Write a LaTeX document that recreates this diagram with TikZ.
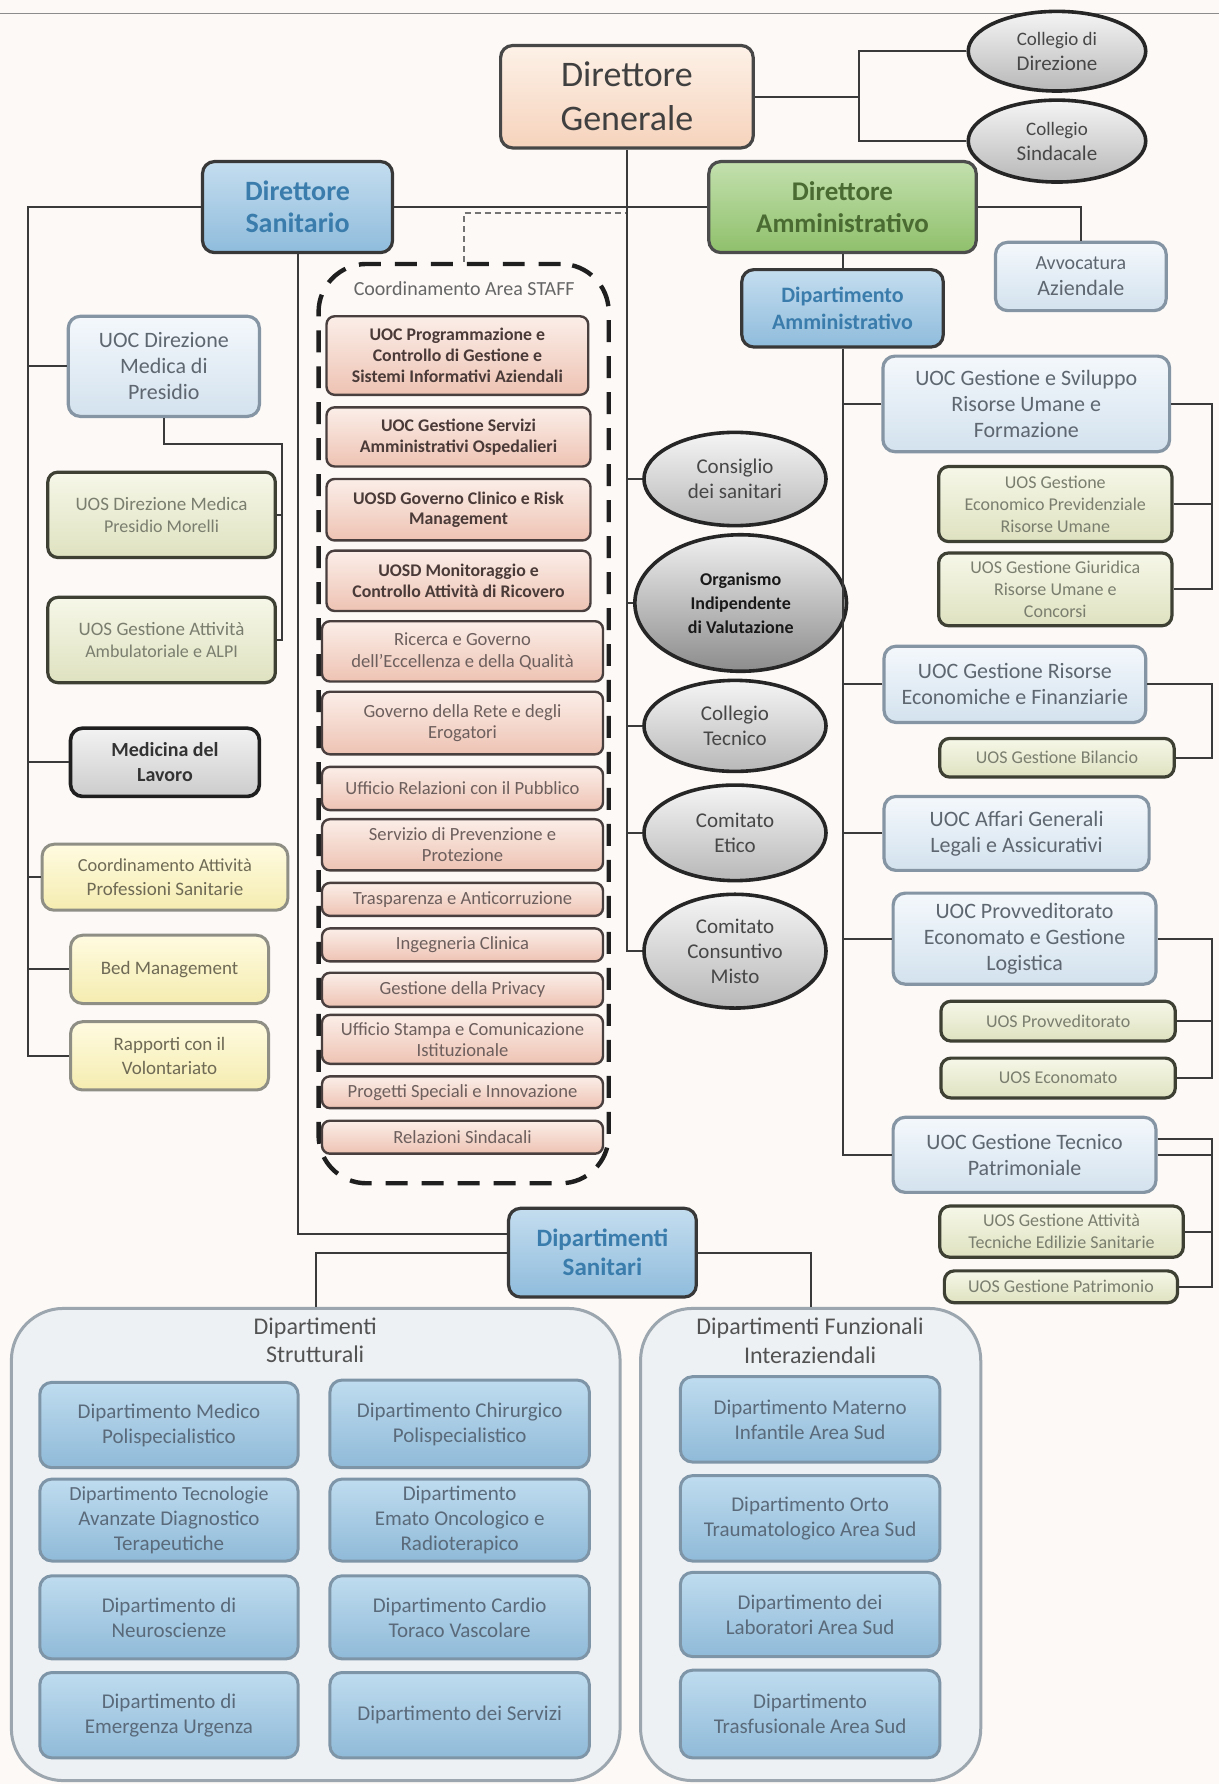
\documentclass[tikz,border=0pt]{standalone}
\usepackage{fontspec}
\setmainfont{Carlito}
\usetikzlibrary{shapes.geometric}
\definecolor{bgc}{HTML}{FCF9F7}
\definecolor{lnc}{HTML}{3A3A3A}
\newcommand\fz[2]{\fontsize{#1}{#2}\selectfont}
\newcommand\bx[7]{\node[#2,minimum width={(#5-#3)*0.02cm},minimum height={(#6-#4)*0.02cm}] (#1) at ({(#3+#5)/2},{(#4+#6)/2}) {#7};}
\newcommand\el[7]{\node[#2,minimum width={2*#5*0.02cm},minimum height={2*#6*0.02cm}] (#1) at (#3,#4) {#7};}
\tikzset{
 boxbase/.style={rectangle,align=center,inner sep=1pt},
 dgbox/.style={boxbase,rounded corners=6pt,draw=black!72,line width=1.6pt,top color={rgb,255:red,253;green,241;blue,231},bottom color={rgb,255:red,246;green,211;blue,188},text=black!75,font=\fz{18}{22}},
 dsbox/.style={boxbase,rounded corners=6pt,draw=black!78,line width=1.6pt,top color={rgb,255:red,196;green,221;blue,239},bottom color={rgb,255:red,143;green,188;blue,220},text={rgb,255:red,58;green,124;blue,171},font=\bfseries\fz{14}{16}},
 dabox/.style={boxbase,rounded corners=6pt,draw=black!70,line width=1.6pt,top color={rgb,255:red,195;green,224;blue,174},bottom color={rgb,255:red,143;green,192;blue,107},text={rgb,255:red,74;green,107;blue,50},font=\bfseries\fz{13.5}{16}},
 dbbox/.style={dsbox,font=\bfseries\fz{11}{13.5}},
 dsanbox/.style={dsbox,font=\bfseries\fz{12.5}{14.5}},
 staffa/.style={boxbase,rounded corners=4pt,draw={rgb,255:red,74;green,63;blue,63},line width=1.2pt,top color={rgb,255:red,251;green,238;blue,232},bottom color={rgb,255:red,238;green,195;blue,179},text={rgb,255:red,74;green,58;blue,56},font=\bfseries\fz{8.9}{10.4}},
 staffb/.style={staffa,text={rgb,255:red,109;green,95;blue,93},font=\fz{9.3}{10.6}},
 lblue/.style={boxbase,rounded corners=6pt,draw={rgb,255:red,133;green,149;blue,163},line width=1.6pt,top color={rgb,255:red,244;green,248;blue,252},bottom color={rgb,255:red,211;green,226;blue,238},text={rgb,255:red,94;green,102;blue,112},font=\fz{11}{13}},
 olive/.style={boxbase,rounded corners=5pt,draw={rgb,255:red,62;green,64;blue,52},line width=1.6pt,top color={rgb,255:red,246;green,247;blue,232},bottom color={rgb,255:red,223;green,226;blue,192},text={rgb,255:red,122;green,126;blue,110},font=\fz{9}{11}},
 graybox/.style={boxbase,rounded corners=6pt,draw=black!88,line width=1.8pt,top color=black!5,bottom color=black!20,text=black!80,font=\bfseries\fz{10}{12.5}},
 yelbox/.style={boxbase,rounded corners=6pt,draw={rgb,255:red,143;green,143;blue,134},line width=1.5pt,top color={rgb,255:red,255;green,251;blue,224},bottom color={rgb,255:red,245;green,236;blue,176},text={rgb,255:red,110;green,106;blue,85},font=\fz{9.5}{12}},
 ell/.style={ellipse,align=center,inner sep=0pt,draw=black!85,line width=1.8pt,top color=black!4,bottom color=black!28,text=black!72,font=\fz{10.5}{12.5}},
 elld/.style={ell,top color=black!6,bottom color=black!45,text=black!90,font=\bfseries\fz{9}{12}},
 dept/.style={boxbase,rounded corners=6pt,draw={rgb,255:red,126;green,149;blue,168},line width=1.5pt,top color={rgb,255:red,191;green,220;blue,239},bottom color={rgb,255:red,143;green,186;blue,216},text={rgb,255:red,90;green,106;blue,122},font=\fz{10.5}{12.5}},
 contbox/.style={rectangle,rounded corners=26pt,draw={rgb,255:red,156;green,166;blue,174},line width=1.5pt,fill={rgb,255:red,238;green,241;blue,244}},
 title/.style={align=center,inner sep=0pt,text=black!68,font=\fz{12}{14.5}},
 conn/.style={draw=lnc,line width=1pt},
}
\begin{document}
\begin{tikzpicture}[x=0.02cm,y=-0.02cm]
\fill[bgc] (0,0) rectangle (1071,1568);
\useasboundingbox (0,0) rectangle (1071,1568);
\draw[black!45,line width=0.8pt] (0,12) -- (1071,12);

% top level
\bx{DG}{dgbox}{440}{40}{662}{130}{Direttore\\Generale}
\el{CD}{ell}{929}{45}{78}{35}{\fz{9.5}{12}Collegio di\\Direzione}
\el{CS}{ell}{929}{124}{78}{36}{\fz{9.5}{12}Collegio\\Sindacale}
\bx{DS}{dsbox}{178}{142}{345}{222}{Direttore\\Sanitario}
\bx{DA}{dabox}{623}{142}{858}{222}{Direttore\\Amministrativo}
\bx{AV}{lblue}{875}{213}{1025}{273}{\fz{10}{12.5}Avvocatura\\Aziendale}
\bx{DAM}{dbbox}{652}{237}{829}{305}{Dipartimento\\Amministrativo}

\coordinate (j1) at (755,85);
\draw[conn] (DG.east) -- (j1);
\draw[conn] (CD.west) -| (j1);
\draw[conn] (CS.west) -| (j1);
\draw[conn] (DS.east) -- (DA.west);
\draw[conn] (DA.east) -| (AV.north);
\draw[conn] (DA.south) -- (DAM.north);

% staff area
\bx{ST}{boxbase,rounded corners=24pt,draw=black!88,line width=2.2pt,dash pattern=on 11pt off 7pt}{280}{232}{535}{1040}{}
\node[title,font=\fz{10}{12},text=black!60] (STt) at (408,254) {Coordinamento Area STAFF};
\coordinate (dot) at (549,187);
\draw[black!55,line width=0.9pt,densely dashed] (ST.north) |- (dot);
\bx{S1}{staffa}{287}{278}{517}{347}{UOC Programmazione e\\Controllo di Gestione e\\Sistemi Informativi Aziendali}
\bx{S2}{staffa}{287}{358}{519}{410}{UOC Gestione Servizi\\Amministrativi Ospedalieri}
\bx{S3}{staffa}{287}{421}{519}{475}{UOSD Governo Clinico e Risk\\Management}
\bx{S4}{staffa}{287}{484}{519}{537}{UOSD Monitoraggio e\\Controllo Attività di Ricovero}
\bx{S5}{staffb}{283}{546}{530}{599}{Ricerca e Governo\\dell'Eccellenza e della Qualità}
\bx{S6}{staffb}{283}{608}{530}{663}{Governo della Rete e degli\\Erogatori}
\bx{S7}{staffb}{283}{674}{530}{712}{Ufficio Relazioni con il Pubblico}
\bx{S8}{staffb}{283}{720}{530}{765}{Servizio di Prevenzione e\\Protezione}
\bx{S9}{staffb}{283}{776}{530}{805}{Trasparenza e Anticorruzione}
\bx{S10}{staffb}{283}{816}{530}{845}{Ingegneria Clinica}
\bx{S11}{staffb}{283}{855}{530}{885}{Gestione della Privacy}
\bx{S12}{staffb}{283}{892}{530}{935}{Ufficio Stampa e Comunicazione\\Istituzionale}
\bx{S13}{staffb}{283}{946}{530}{974}{Progetti Speciali e Innovazione}
\bx{S14}{staffb}{283}{985}{530}{1014}{Relazioni Sindacali}

% middle ellipses
\el{E1}{ell}{646}{421}{80}{41}{Consiglio\\dei sanitari}
\el{E2}{elld}{651}{530}{93}{60}{Organismo\\Indipendente\\di Valutazione}
\el{E3}{ell}{646}{638}{80}{40}{Collegio\\Tecnico}
\el{E4}{ell}{646}{732}{80}{42}{Comitato\\Etico}
\el{E5}{ell}{646}{836}{80}{50}{Comitato\\Consuntivo\\Misto}
\draw[conn] (DG.south) |- (E5.west);
\foreach \e in {E1,E2,E3,E4} \draw[conn] (\e.west) -- (\e.west -| DG.south);

% left column
\bx{L1}{lblue}{60}{278}{228}{366}{UOC Direzione\\Medica di\\Presidio}
\bx{L2}{olive}{42}{415}{242}{490}{\fz{9.5}{12}UOS Direzione Medica\\Presidio Morelli}
\bx{L3}{olive}{42}{525}{242}{600}{\fz{9.5}{12}UOS Gestione Attività\\Ambulatoriale e ALPI}
\bx{L4}{graybox}{62}{640}{228}{700}{Medicina del\\Lavoro}
\bx{L5}{yelbox}{37}{742}{253}{800}{\fz{9.2}{12}Coordinamento Attività\\Professioni Sanitarie}
\bx{L6}{yelbox}{62}{822}{236}{882}{Bed Management}
\bx{L7}{yelbox}{62}{898}{236}{958}{Rapporti con il\\Volontariato}
\coordinate (lv) at (25,182);
\draw[conn] (DS.west) -| (lv |- L7.west) -- (L7.west);
\foreach \n in {L1,L4,L5,L6} \draw[conn] (\n.west) -- (\n.west -| lv);
\coordinate (lb) at (248,390);
\draw[conn] (L1.south) |- (lb) |- (L3.east);
\draw[conn] (L2.east) -- (L2.east -| lb);

% right column
\bx{R1}{lblue}{776}{313}{1028}{397}{UOC Gestione e Sviluppo\\Risorse Umane e\\Formazione}
\bx{R1a}{olive}{825}{410}{1030}{476}{UOS Gestione\\Economico Previdenziale\\Risorse Umane}
\bx{R1b}{olive}{825}{486}{1030}{550}{UOS Gestione Giuridica\\Risorse Umane e\\Concorsi}
\bx{R2}{lblue}{777}{568}{1007}{635}{UOC Gestione Risorse\\Economiche e Finanziarie}
\bx{R2a}{olive}{826}{649}{1032}{683}{UOS Gestione Bilancio}
\bx{R3}{lblue}{777}{700}{1010}{765}{UOC Affari Generali\\Legali e Assicurativi}
\bx{R4}{lblue}{785}{785}{1016}{865}{UOC Provveditorato\\Economato e Gestione\\Logistica}
\bx{R4a}{olive}{827}{880}{1033}{915}{UOS Provveditorato}
\bx{R4b}{olive}{827}{930}{1033}{965}{UOS Economato}
\bx{R5}{lblue}{785}{982}{1016}{1048}{UOC Gestione Tecnico\\Patrimoniale}
\bx{R5a}{olive}{826}{1060}{1040}{1105}{UOS Gestione Attività\\Tecniche Edilizie Sanitarie}
\bx{R5b}{olive}{830}{1117}{1035}{1145}{UOS Gestione Patrimonio}
\draw[conn] (DAM.south) |- (R5.west);
\foreach \n in {R1,R2,R3,R4} \draw[conn] (\n.west) -- (\n.west -| DAM.south);
\coordinate (rb) at (1065,0);
\draw[conn] (R1.east) -| (R1b.east -| rb) -- (R1b.east);
\draw[conn] (R1a.east) -- (R1a.east -| rb);
\draw[conn] (R2.east) -| (R2a.east -| rb) -- (R2a.east);
\draw[conn] (R4.east) -| (R4b.east -| rb) -- (R4b.east);
\draw[conn] (R4a.east) -- (R4a.east -| rb);
\draw[conn] ([yshift=0.28cm]R5.east) -| (R5b.east -| rb) -- (R5b.east);
\draw[conn] (R5.east) -- (R5.east -| rb);
\draw[conn] (R5a.east) -- (R5a.east -| rb);

% Dipartimenti sanitari
\bx{DSAN}{dsanbox}{447}{1062}{612}{1140}{Dipartimenti\\Sanitari}
\draw[conn] (DS.south) |- ([yshift=0.32cm]DSAN.west);
\bx{CS1}{contbox}{10}{1150}{545}{1565}{}
\bx{CF1}{contbox}{563}{1150}{862}{1565}{}
\node[title] (CS1t) at (277,1178) {Dipartimenti\\Strutturali};
\node[title] (CF1t) at (712,1178) {Dipartimenti Funzionali\\Interaziendali};
\draw[conn] (DSAN.west) -| (CS1.north);
\draw[conn] (DSAN.east) -| (CF1.north);

\bx{D1}{dept}{35}{1215}{262}{1290}{Dipartimento Medico\\Polispecialistico}
\bx{D2}{dept}{290}{1213}{518}{1290}{Dipartimento Chirurgico\\Polispecialistico}
\bx{D3}{dept}{35}{1300}{262}{1372}{\fz{10}{12.5}Dipartimento Tecnologie\\Avanzate Diagnostico\\Terapeutiche}
\bx{D4}{dept}{290}{1300}{518}{1372}{Dipartimento\\Emato Oncologico e\\Radioterapico}
\bx{D5}{dept}{35}{1385}{262}{1458}{Dipartimento di\\Neuroscienze}
\bx{D6}{dept}{290}{1385}{518}{1458}{Dipartimento Cardio\\Toraco Vascolare}
\bx{D7}{dept}{35}{1470}{262}{1545}{Dipartimento di\\Emergenza Urgenza}
\bx{D8}{dept}{290}{1470}{518}{1545}{Dipartimento dei Servizi}
\bx{F1}{dept}{598}{1210}{826}{1285}{Dipartimento Materno\\Infantile Area Sud}
\bx{F2}{dept}{598}{1297}{826}{1372}{Dipartimento Orto\\Traumatologico Area Sud}
\bx{F3}{dept}{598}{1382}{826}{1456}{Dipartimento dei\\Laboratori Area Sud}
\bx{F4}{dept}{598}{1468}{826}{1545}{Dipartimento\\Trasfusionale Area Sud}
\end{tikzpicture}
\end{document}
